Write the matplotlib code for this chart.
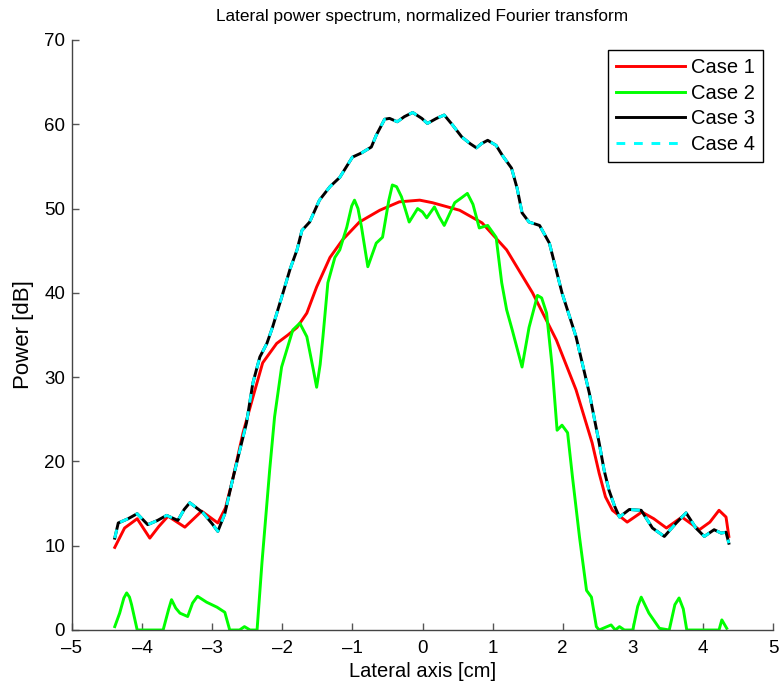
import matplotlib
matplotlib.use("Agg")
import matplotlib.pyplot as plt

plt.rcParams['font.family'] = ['Liberation Sans', 'DejaVu Sans']

# Case 3 (black) / Case 4 (cyan dashed)
x3 = [-4.39, -4.34, -4.20, -4.07, -3.92, -3.78, -3.65, -3.49, -3.40, -3.32, -3.13, -3.00, -2.92,
      -2.82, -2.71, -2.51, -2.42, -2.32, -2.22, -2.14, -1.99, -1.89, -1.79, -1.72, -1.61, -1.47,
      -1.32, -1.18, -1.00, -0.87, -0.73, -0.66, -0.54, -0.47, -0.36, -0.26, -0.14, -0.01, 0.07,
      0.20, 0.31, 0.43, 0.56, 0.68, 0.77, 0.84, 0.93, 1.05, 1.14, 1.27, 1.35, 1.42, 1.52, 1.67,
      1.81, 1.99, 2.19, 2.38, 2.52, 2.59, 2.66, 2.74, 2.81, 2.95, 3.12, 3.28, 3.45, 3.62, 3.76,
      3.90, 4.02, 4.16, 4.26, 4.33, 4.37]
y3 = [10.9, 12.7, 13.2, 13.8, 12.5, 13.0, 13.6, 13.0, 14.3, 15.1, 13.9, 12.6, 11.7,
      13.8, 17.8, 24.6, 29.3, 32.4, 34.0, 35.9, 40.0, 42.8, 45.1, 47.4, 48.4, 51.0,
      52.6, 53.7, 56.1, 56.6, 57.3, 58.7, 60.6, 60.7, 60.3, 60.9, 61.4, 60.7, 60.1,
      60.7, 61.1, 59.9, 58.5, 57.7, 57.2, 57.7, 58.1, 57.5, 56.3, 54.8, 52.4, 49.5, 48.4, 48.0,
      45.9, 40.0, 34.8, 28.1, 22.2, 19.0, 16.6, 14.7, 13.4, 14.3, 14.2, 12.1, 11.1, 12.7, 13.9,
      12.1, 11.1, 11.9, 11.5, 11.6, 10.3]
x4 = x3
y4 = y3

# Case 1 (red)
x1 = [-4.39, -4.25, -4.07, -3.89, -3.76, -3.63, -3.39, -3.15, -2.92, -2.81, -2.71, -2.56, -2.42,
      -2.28, -2.08, -1.92, -1.79, -1.65, -1.51, -1.32, -1.14, -0.90, -0.61, -0.33, -0.04, 0.14,
      0.53, 0.85, 1.20, 1.57, 1.91, 2.19, 2.42, 2.52, 2.61, 2.71, 2.92, 3.13, 3.30, 3.48, 3.70,
      3.95, 4.10, 4.23, 4.33, 4.37]
y1 = [9.8, 12.1, 13.2, 10.9, 12.3, 13.5, 12.2, 14.1, 12.7, 14.5, 17.8, 23.4, 27.6,
      31.7, 34.0, 35.0, 35.9, 37.6, 40.7, 44.2, 46.3, 48.4, 49.8, 50.8, 51.0, 50.7,
      49.8, 48.3, 45.1, 40.0, 34.4, 28.5, 22.2, 18.6, 15.8, 14.2, 12.8, 14.0, 13.2, 12.1, 13.4,
      11.9, 12.8, 14.2, 13.4, 11.1]

# Case 2 (green)
x2 = [-4.39, -4.32, -4.26, -4.22, -4.18, -4.15, -4.07, -3.70, -3.62, -3.58, -3.52, -3.46, -3.35,
      -3.28, -3.21, -3.08, -2.93, -2.82, -2.75, -2.61, -2.54, -2.46, -2.36, -2.29, -2.22, -2.18,
      -2.11, -2.01, -1.85, -1.75, -1.65, -1.56, -1.51, -1.46, -1.42, -1.35, -1.25, -1.18, -1.08,
      -1.01, -0.97, -0.92, -0.87, -0.78, -0.66, -0.57, -0.48, -0.43, -0.37, -0.30, -0.19, -0.07,
      0.00, 0.06, 0.17, 0.24, 0.31, 0.46, 0.56, 0.64, 0.72, 0.81, 0.93, 1.05, 1.13, 1.20, 1.28,
      1.42, 1.52, 1.64, 1.70, 1.77, 1.85, 1.92, 1.99, 2.07, 2.14, 2.24, 2.34, 2.41, 2.48, 2.52,
      2.69, 2.75, 2.81, 2.88, 3.00, 3.07, 3.12, 3.23, 3.38, 3.52, 3.60, 3.66, 3.72, 3.77, 4.23,
      4.27, 4.34]
y2 = [0.4, 2.0, 3.8, 4.4, 3.9, 3.0, 0.0, 0.0, 2.5, 3.6, 2.6, 2.0, 1.6,
      3.2, 4.0, 3.3, 2.7, 2.1, 0.0, 0.0, 0.4, 0.0, 0.0, 8.0, 15.0, 19.0,
      25.3, 31.2, 35.6, 36.4, 34.8, 31.0, 28.8, 31.5, 34.8, 41.2, 44.2, 45.1, 47.8,
      50.3, 51.0, 50.0, 47.8, 43.1, 45.9, 46.6, 51.0, 52.8, 52.6, 51.4, 48.4, 50.0,
      49.6, 48.9, 50.2, 49.0, 48.0, 50.7, 51.3, 51.8, 50.5, 47.7, 48.0, 46.6, 41.2, 38.0, 35.6,
      31.2, 35.9, 39.7, 39.4, 37.6, 31.2, 23.7, 24.3, 23.4, 18.1, 11.0, 4.7, 3.9, 0.4, 0.0,
      0.6, 0.0, 0.4, 0.0, 0.0, 2.8, 3.9, 2.0, 0.2, 0.0, 3.0, 3.8, 2.5, 0.0, 0.0,
      1.2, 0.2]

labels = ['Case 1', 'Case 2', 'Case 3', 'Case 4']
xticks = [-5, -4, -3, -2, -1, 0, 1, 2, 3, 4, 5]
yticks = [0, 10, 20, 30, 40, 50, 60, 70]

W, H = 779, 690
fig = plt.figure(figsize=(W / 100, H / 100), dpi=100)
ax = fig.add_axes([72 / W, 1 - 630 / H, (773 - 72) / W, (630 - 40) / H])

lw = 2.1
ax.plot(x1, y1, color='#ff0000', lw=lw, label=labels[0], solid_joinstyle='round')
ax.plot(x2, y2, color='#00ff00', lw=lw, label=labels[1], solid_joinstyle='round')
ax.plot(x3, y3, color='#000000', lw=lw, label=labels[2], solid_joinstyle='round')
ax.plot(x4, y4, color='#00ffff', lw=lw, label=labels[3], linestyle=(0, (3, 3)))

ax.set_xlim(-5, 5)
ax.set_ylim(0, 70)
ax.set_xticks(xticks)
ax.set_yticks(yticks)
ax.set_xticklabels([str(t).replace('-', '\u2013') for t in xticks])
ax.set_yticklabels([str(t) for t in yticks])

for s in ['top', 'right']:
    ax.spines[s].set_visible(False)
for s in ['left', 'bottom']:
    ax.spines[s].set_color('#444444')
    ax.spines[s].set_linewidth(1.0)
ax.tick_params(direction='in', length=5, width=1.0, color='#555555', labelsize=13.5,
               labelcolor='black')
ax.tick_params(axis='x', pad=7)
ax.tick_params(axis='y', pad=5)

ax.set_title('Lateral power spectrum, normalized Fourier transform', fontsize=12.4, pad=14)
ax.set_xlabel('Lateral axis [cm]', fontsize=14.5, labelpad=4)
ax.set_ylabel('Power [dB]', fontsize=16, labelpad=7)

leg = ax.legend(loc='upper right', fontsize=14.5, frameon=True, fancybox=False,
                edgecolor='black', framealpha=1, borderpad=0.4, handlelength=3.4,
                handletextpad=0.3, labelspacing=0.33, borderaxespad=0,
                bbox_to_anchor=(763 / W, 1 - 50 / H), bbox_transform=fig.transFigure)
leg.get_frame().set_linewidth(1.0)

fig.savefig('out.png', dpi=100)
